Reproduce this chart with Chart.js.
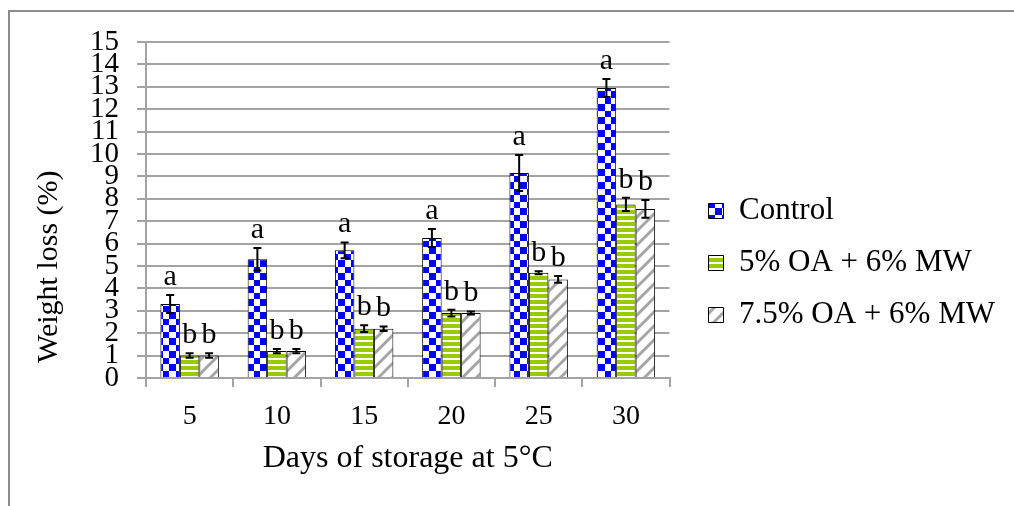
<!DOCTYPE html>
<html>
<head>
<meta charset="utf-8">
<script src="https://cdn.jsdelivr.net/npm/chart.js@4.4.0/dist/chart.umd.min.js"></script>
<style>
  html, body { margin: 0; padding: 0; background: #fff; }
  #wrap { width: 1014px; height: 506px; position: relative; }
</style>
</head>
<body>
<div id="wrap"><canvas id="chart"></canvas></div>
<script>
// Weight loss during cold storage, three treatments

const days = ['5', '10', '15', '20', '25', '30'];

const control = [3.3, 5.3, 5.7, 6.25, 9.15, 12.95];
const controlErr = [0.4, 0.5, 0.35, 0.4, 0.8, 0.4];
const controlLetters = ['a', 'a', 'a', 'a', 'a', 'a'];

const oa5 = [1.0, 1.2, 2.2, 2.9, 4.7, 7.75];
const oa5Err = [0.1, 0.1, 0.15, 0.15, 0.07, 0.3];
const oa5Letters = ['b', 'b', 'b', 'b', 'b', 'b'];

const oa75 = [1.0, 1.2, 2.2, 2.9, 4.4, 7.55];
const oa75Err = [0.1, 0.1, 0.1, 0.07, 0.15, 0.4];
const oa75Letters = ['b', 'b', 'b', 'b', 'b', 'b'];

const serif = '"Liberation Serif", "Times New Roman", serif';
const gridGray = '#a3a3a3';

const canvas = document.getElementById('chart');
const mainCtx = canvas.getContext('2d');

function makeTile(size, draw) {
    const c = document.createElement('canvas');
    c.width = size;
    c.height = size;
    const g = c.getContext('2d');
    g.fillStyle = '#fff';
    g.fillRect(0, 0, size, size);
    draw(g);
    return mainCtx.createPattern(c, 'repeat');
}

const checker = makeTile(13, g => {
    g.fillStyle = '#0000ff';
    g.fillRect(0, 0, 7, 7);
    g.fillRect(7, 7, 6, 6);
});

const stripes = makeTile(6, g => {
    g.fillStyle = '#99cc00';
    g.fillRect(0, 0, 6, 4);
});

const hatch = makeTile(14, g => {
    g.strokeStyle = '#a5a5a5';
    g.lineWidth = 3;
    g.beginPath();
    g.moveTo(-7, 7); g.lineTo(7, -7);
    g.moveTo(0, 14); g.lineTo(14, 0);
    g.moveTo(7, 21); g.lineTo(21, 7);
    g.stroke();
});

// white page with the grey frame of the original figure
const frame = {
    id: 'frame',
    beforeDraw(chart) {
        const ctx = chart.ctx;
        ctx.save();
        ctx.fillStyle = '#fff';
        ctx.fillRect(0, 0, chart.width, chart.height);
        ctx.strokeStyle = '#8c8c8c';
        ctx.lineWidth = 2;
        ctx.beginPath();
        ctx.moveTo(9, chart.height);
        ctx.lineTo(9, 11);
        ctx.lineTo(chart.width, 11);
        ctx.stroke();
        ctx.restore();
    }
};

// error bars and significance letters
const errorBars = {
    id: 'errorBars',
    afterDatasetsDraw(chart) {
        const ctx = chart.ctx;
        const y = chart.scales.y;
        ctx.save();
        ctx.strokeStyle = '#000';
        ctx.lineWidth = 2;
        ctx.fillStyle = '#000';
        ctx.font = '30px ' + serif;
        ctx.textAlign = 'center';
        ctx.textBaseline = 'alphabetic';
        chart.data.datasets.forEach((ds, i) => {
            const meta = chart.getDatasetMeta(i);
            meta.data.forEach((bar, j) => {
                const v = ds.data[j];
                const e = ds.errors[j];
                const top = y.getPixelForValue(v + e);
                const bot = y.getPixelForValue(v - e);
                ctx.beginPath();
                ctx.moveTo(bar.x, top); ctx.lineTo(bar.x, bot);
                ctx.moveTo(bar.x - 4, top); ctx.lineTo(bar.x + 4, top);
                ctx.moveTo(bar.x - 4, bot); ctx.lineTo(bar.x + 4, bot);
                ctx.stroke();
                ctx.fillText(ds.letters[j], bar.x, top - 10);
            });
        });
        ctx.restore();
    }
};

new Chart(mainCtx, {
    type: 'bar',
    data: {
        labels: days,
        datasets: [{
            label: 'Control',
            data: control,
            errors: controlErr,
            letters: controlLetters,
            backgroundColor: checker,
            borderColor: '#000',
            borderWidth: 1
        }, {
            label: '5% OA + 6% MW',
            data: oa5,
            errors: oa5Err,
            letters: oa5Letters,
            backgroundColor: stripes,
            borderColor: '#000',
            borderWidth: 1
        }, {
            label: '7.5% OA + 6% MW',
            data: oa75,
            errors: oa75Err,
            letters: oa75Letters,
            backgroundColor: hatch,
            borderColor: '#000',
            borderWidth: 1
        }]
    },
    options: {
        responsive: true,
        maintainAspectRatio: false,
        animation: false,
        categoryPercentage: 0.67,
        barPercentage: 1.0,
        layout: { padding: { left: 12, top: 42, right: 9, bottom: 22 } },
        plugins: {
            tooltip: { enabled: false },
            legend: {
                position: 'right',
                align: 'center',
                maxWidth: 400,
                labels: {
                    font: { family: serif, size: 31 },
                    color: '#000',
                    boxWidth: 15,
                    boxHeight: 15,
                    padding: 21
                }
            }
        },
        scales: {
            x: {
                grid: {
                    offset: true,
                    drawOnChartArea: false,
                    drawTicks: true,
                    tickLength: 9,
                    color: gridGray,
                    lineWidth: 2
                },
                border: { color: gridGray, width: 2 },
                ticks: {
                    font: { family: serif, size: 28 },
                    color: '#000',
                    padding: 13,
                    maxRotation: 0
                },
                title: {
                    display: true,
                    text: 'Days of storage at 5°C',
                    font: { family: serif, size: 32 },
                    color: '#000',
                    padding: { top: 0, bottom: 6 }
                },
                afterFit(scale) { scale.height = 106; }
            },
            y: {
                min: 0,
                max: 15,
                grid: {
                    color: gridGray,
                    lineWidth: 2,
                    tickLength: 9
                },
                border: { color: gridGray, width: 2 },
                ticks: {
                    stepSize: 1,
                    autoSkip: false,
                    font: { family: serif, size: 29 },
                    color: '#000',
                    padding: 18
                },
                title: {
                    display: true,
                    text: '  Weight loss (%)',
                    align: 'start',
                    font: { family: serif, size: 30 },
                    color: '#000',
                    padding: { top: 19, bottom: 0 }
                },
                afterFit(scale) { scale.width = 134; }
            },
            // empty spacer between plot and legend
            y2: {
                position: 'right',
                display: true,
                grid: { display: false },
                border: { display: false },
                ticks: { display: false },
                afterFit(scale) { scale.width = 18; }
            }
        }
    },
    plugins: [frame, errorBars]
});
</script>
</body>
</html>
